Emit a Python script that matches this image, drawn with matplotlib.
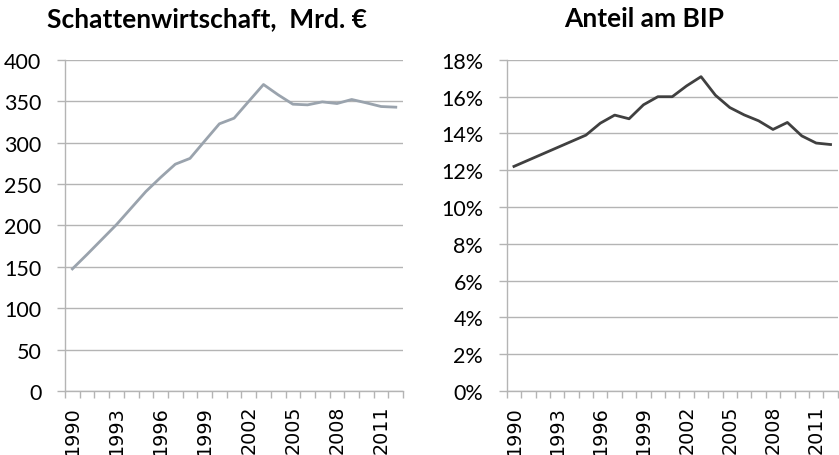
import numpy as np
import matplotlib
matplotlib.use("Agg")
import matplotlib.pyplot as plt
from matplotlib.ticker import FixedLocator, NullFormatter

years = list(range(1990, 2013))
schatten = [147.5, 165, 183, 201, 221, 241, 258, 274, 281, 302, 322.8, 329.6,
            350, 370.3, 357.8, 346.5, 345.7, 349.3, 347.3, 352.2, 348.1, 343.7, 342.9]
anteil = [12.21, 12.55, 12.89, 13.23, 13.57, 13.91, 14.56, 15.0, 14.8, 15.56, 16.0, 16.0,
          16.59, 17.09, 16.08, 15.41, 15.01, 14.69, 14.22, 14.6, 13.87, 13.48, 13.40]

grid_col = "#b4b4b4"
lab_font = "Lato"

fig = plt.figure(figsize=(8.39, 4.56), dpi=100)
ax1 = fig.add_axes([0.0775, 0.1404, 0.403, 0.726])
ax2 = fig.add_axes([0.604, 0.1404, 0.3945, 0.726])

def style(ax, ymax, step, fmt):
    n = len(years)
    x = np.arange(n)
    ax.set_xlim(-0.5, n - 0.5)
    ax.set_ylim(0, ymax)
    yt = np.arange(0, ymax + step / 2, step)
    ax.set_yticks(yt)
    ax.set_yticklabels([fmt(v) for v in yt], fontsize=15.5, family=lab_font)
    ax.tick_params(axis="y", length=6, color=grid_col, width=1, pad=11)
    ax.yaxis.grid(True, color=grid_col, lw=1)
    ax.set_axisbelow(True)
    # labels every 3rd year, tick marks on the category boundaries
    ax.set_xticks(x[::3])
    ax.set_xticklabels([str(y) for y in years[::3]], rotation=90,
                       fontsize=13.8, family="DejaVu Sans")
    ax.tick_params(axis="x", which="major", length=0, pad=10)
    ax.xaxis.set_minor_locator(FixedLocator(np.arange(n + 1) - 0.5))
    ax.xaxis.set_minor_formatter(NullFormatter())
    ax.tick_params(axis="x", which="minor", length=5, color=grid_col, width=1)
    for s in ["top", "right"]:
        ax.spines[s].set_visible(False)
    for s in ["left", "bottom"]:
        ax.spines[s].set_color(grid_col)
        ax.spines[s].set_linewidth(1)

x = np.arange(len(years))
ax1.plot(x, schatten, color="#9aa3ad", lw=2)
style(ax1, 400, 50, lambda v: f"{int(v)}")
ax2.plot(x, anteil, color="#404040", lw=2)
style(ax2, 18, 2, lambda v: f"{int(v)}%")

fig.text(0.247, 0.958, "Schattenwirtschaft,  Mrd. €", ha="center", va="center",
         fontsize=19, fontweight="bold", family=lab_font)
fig.text(0.768, 0.958, "Anteil am BIP", ha="center", va="center",
         fontsize=19, fontweight="bold", family=lab_font)

fig.savefig("out.png", dpi=100)
